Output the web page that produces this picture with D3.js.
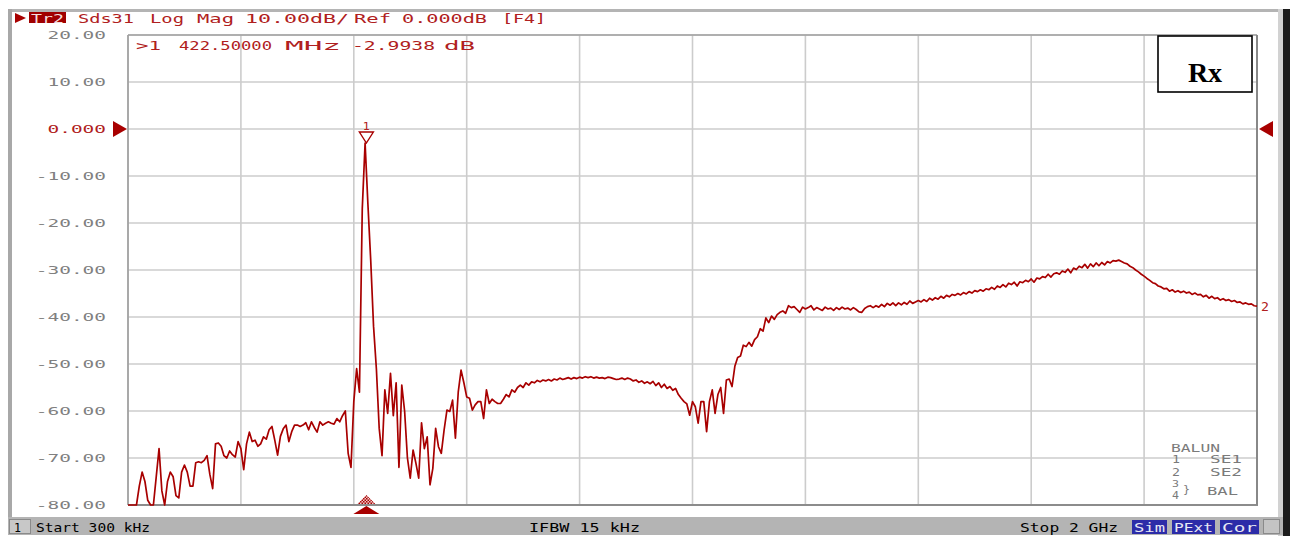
<!DOCTYPE html>
<html>
<head>
<meta charset="utf-8">
<script src="https://cdn.jsdelivr.net/npm/d3@7"></script>
<style>
  html, body { margin: 0; padding: 0; background: #fff; }
  svg { display: block; }
</style>
</head>
<body>
<div id="canvas"></div>
<script>
// sweep: 401 points, 300 kHz .. 2 GHz (MHz)
const startMHz = 0.3;
const stopMHz = 2000;
const sweepPoints = 401;

// Sds31 trace, dB
const traceDb = [
  -81, -82, -81, -80.5, -76, -73, -75, -79, -82, -83,
  -74, -68, -77, -82, -75, -73, -74, -78, -78.5, -73,
  -71.5, -73, -76, -76, -71, -70.8, -71, -70.5, -69.5, -73.5,
  -76.5, -67, -66.8, -67.5, -69.5, -70, -68.5, -69.3, -69.8, -66.5,
  -68, -72.5, -67, -64.5, -66.5, -66.2, -67.5, -67, -65.5, -66,
  -64, -63.3, -66.2, -69.4, -65.4, -63.8, -63, -66.5, -64.4, -63,
  -63, -63.3, -63, -62.5, -64, -62.3, -63.5, -64.5, -62.3, -63,
  -62.6, -62.3, -62.6, -62.8, -61.6, -62.3, -61, -60, -69, -72,
  -58, -51, -56, -17, -3, -16, -28, -42, -51, -63.7,
  -69.5, -55.5, -60.5, -52, -61, -54, -72, -54.5, -60, -70,
  -74.3, -68.3, -71.1, -74.3, -62.5, -68, -65.5, -75.7, -72.2, -63.7,
  -67.6, -69, -64, -59.8, -60.1, -57.7, -65.8, -56, -51.3, -54,
  -57, -57.3, -59.8, -58.7, -58, -58, -61.6, -55.5, -58.4, -57.5,
  -58, -58.4, -58.4, -57.5, -56.5, -57, -55.5, -56, -55, -54.5,
  -55, -54, -54.5, -53.8, -54, -53.5, -53.8, -53.4, -53.6, -53.3,
  -53.6, -53.2, -53.4, -53.0, -53.3, -53.1, -52.9, -53.2, -52.9, -53.1,
  -52.8, -53.0, -52.7, -52.9, -52.7, -53.0, -52.8, -53.0, -52.9, -53.1,
  -52.8, -52.9, -53.1, -53.3, -53.2, -53.0, -53.3, -53.0, -53.2, -53.6,
  -53.4, -53.9, -53.6, -54.1, -53.8, -54.2, -53.7, -54.6, -54.0, -55.0,
  -54.3, -55.2, -54.8, -55.6, -55.2, -56.5, -57.3, -58.0, -58.5, -60.9,
  -58.0, -59.1, -62.6, -58.0, -58.0, -64.4, -58.0, -55.5, -60.5, -56.5,
  -55.0, -60.5, -53.4, -53.2, -54.8, -50.5, -48.6, -48.3, -46.0, -46.3,
  -45.4, -46.2, -44.8, -44.2, -42.5, -43.0, -40.2, -41.2, -39.8, -40.5,
  -39.5, -39.0, -38.7, -39.2, -37.6, -38.0, -37.8, -38.4, -39.0, -37.9,
  -38.3, -38.0, -37.6, -38.5, -38.0, -38.3, -38.6, -37.9, -38.3, -38.1,
  -38.6, -38.0, -38.4, -37.9, -38.3, -38.1, -38.5, -38.0, -38.4, -38.9,
  -39.0, -38.2, -37.8, -37.6, -38.0, -37.6, -37.9, -37.3, -37.8, -37.1,
  -37.5, -37.0, -37.6, -37.0, -37.4, -36.9, -37.3, -36.6, -37.1, -36.8,
  -36.5, -36.8, -36.3, -36.7, -36.0, -36.4, -35.9, -36.2, -35.6, -36.0,
  -35.4, -35.7, -35.2, -35.4, -35.0, -35.3, -34.8, -35.1, -34.6, -34.9,
  -34.4, -34.6, -34.2, -34.5, -34.0, -34.2, -33.7, -34.1, -33.4, -33.7,
  -33.1, -33.6, -32.8, -33.1, -32.6, -33.4, -32.5, -32.7, -32.2, -32.5,
  -31.9, -32.6, -31.7, -31.9, -31.4, -31.6, -30.9, -31.5, -30.8, -30.6,
  -30.9, -30.2, -30.5, -29.8, -30.6, -29.6, -29.9, -29.2, -29.5, -28.8,
  -29.6, -28.7, -29.3, -28.5, -29.1, -28.4, -28.9, -28.2, -28.5, -28.0,
  -28.1, -27.9, -28.2, -28.5, -28.7, -29.2, -29.5, -30.0, -30.4, -30.9,
  -31.3, -31.8, -32.2, -32.7, -32.9, -33.4, -33.6, -34.0, -33.9, -34.5,
  -34.2, -34.7, -34.4, -34.8, -34.5, -34.9, -34.7, -35.2, -34.9, -35.3,
  -35.2, -35.7, -35.4, -36.0, -35.6, -36.1, -35.9, -36.4, -36.1, -36.5,
  -36.3, -36.7, -36.5, -36.9, -36.8, -37.2, -37.0, -37.3, -37.2, -37.6,
  -37.7
];

const yTicks = [20, 10, 0, -10, -20, -30, -40, -50, -60, -70, -80];
const yTickLabels = ['20.00', '10.00', '0.000', '-10.00', '-20.00', '-30.00', '-40.00', '-50.00', '-60.00', '-70.00', '-80.00'];
const refDb = 0;

const markerFreq = 422.5;
const markerDb = -2.9938;
const markerReadout = ['>1', '422.50000', 'MHz', '-2.9938', 'dB'];

const titleWords = ['Sds31', 'Log', 'Mag', '10.00dB/', 'Ref', '0.000dB', '[F4]'];
const statusTexts = ['Start 300 kHz', 'IFBW 15 kHz', 'Stop 2 GHz'];
const statusFlags = ['Sim', 'PExt', 'Cor'];

const red = '#a80000';
const textRed = '#b02020';
const mono = 'DejaVu Sans Mono';

const svg = d3
  .select('#canvas')
  .append('svg')
  .attr('width', 1296)
  .attr('height', 539)
  .style('background-color', '#ffffff');

// stretched pixel-font look: every word gets its own width
function word(g, str, x, y, w, size, color, anchor) {
  return g.append('text')
    .attr('x', x)
    .attr('y', y)
    .attr('font-family', mono)
    .attr('font-size', size)
    .attr('fill', color)
    .attr('text-anchor', anchor || 'start')
    .attr('textLength', w)
    .attr('lengthAdjust', 'spacingAndGlyphs')
    .text(str);
}

// window frame
svg.append('rect').attr('x', 8).attr('y', 9).attr('width', 1276).attr('height', 3).attr('fill', '#b4b4b4');
svg.append('rect').attr('x', 8).attr('y', 9).attr('width', 4).attr('height', 509).attr('fill', '#a8a8a8');
svg.append('rect').attr('x', 1278).attr('y', 9).attr('width', 5).attr('height', 527).attr('fill', '#d2d2d2');
svg.append('rect').attr('x', 1283).attr('y', 9).attr('width', 7).attr('height', 527).attr('fill', '#1c1c1c');

const x = d3.scaleLinear().domain([startMHz, stopMHz]).range([128, 1257]);
const y = d3.scaleLinear().domain([-80, 20]).range([505, 35]).clamp(true);

const plot = svg.append('g');
plot.append('rect')
  .attr('x', x(startMHz)).attr('y', y(20))
  .attr('width', x(stopMHz) - x(startMHz)).attr('height', y(-80) - y(20))
  .attr('fill', '#ffffff');

const xGrid = d3.range(11).map((i) => startMHz + (i * (stopMHz - startMHz)) / 10);

plot.selectAll('line.vgrid')
  .data(xGrid)
  .join('line')
  .attr('class', 'vgrid')
  .attr('x1', (d) => x(d)).attr('x2', (d) => x(d))
  .attr('y1', y(20)).attr('y2', y(-80))
  .attr('stroke', '#cccccc')
  .attr('stroke-width', 1.6);

plot.selectAll('line.hgrid')
  .data(yTicks)
  .join('line')
  .attr('class', 'hgrid')
  .attr('x1', x(startMHz)).attr('x2', x(stopMHz))
  .attr('y1', (d) => y(d)).attr('y2', (d) => y(d))
  .attr('stroke', '#cccccc')
  .attr('stroke-width', 1.4);

plot.append('line')
  .attr('x1', x(startMHz)).attr('x2', x(startMHz)).attr('y1', y(20)).attr('y2', y(-80))
  .attr('stroke', '#9a9a9a').attr('stroke-width', 1.5);
plot.append('line')
  .attr('x1', x(startMHz)).attr('x2', x(stopMHz)).attr('y1', y(20)).attr('y2', y(20))
  .attr('stroke', '#a0a0a0').attr('stroke-width', 1.5);
plot.append('line')
  .attr('x1', x(startMHz)).attr('x2', x(stopMHz) + 1).attr('y1', y(-80)).attr('y2', y(-80))
  .attr('stroke', '#8c8c8c').attr('stroke-width', 2);
plot.append('line')
  .attr('x1', x(stopMHz)).attr('x2', x(stopMHz)).attr('y1', y(20)).attr('y2', y(-80))
  .attr('stroke', '#888888').attr('stroke-width', 2);

// y tick labels
svg.selectAll('text.ytick')
  .data(yTicks)
  .join('text')
  .attr('class', 'ytick')
  .attr('x', 106)
  .attr('y', (d) => y(d) + 4)
  .attr('text-anchor', 'end')
  .attr('font-family', mono)
  .attr('font-size', 11)
  .attr('fill', (d) => (d === refDb ? textRed : '#808080'))
  .attr('textLength', (d, i) => yTickLabels[i].length * 11.7)
  .attr('lengthAdjust', 'spacingAndGlyphs')
  .text((d, i) => yTickLabels[i]);

// reference position arrows
svg.append('path')
  .attr('d', `M113,${y(refDb) - 8}L127,${y(refDb)}L113,${y(refDb) + 8}Z`)
  .attr('fill', red);
svg.append('path')
  .attr('d', `M1273,${y(refDb) - 8}L1259,${y(refDb)}L1273,${y(refDb) + 8}Z`)
  .attr('fill', red);

// trace
const freqs = traceDb.map((d, i) => startMHz + (i * (stopMHz - startMHz)) / (sweepPoints - 1));
const line = d3.line()
  .x((d, i) => x(freqs[i]))
  .y((d) => y(d));

plot.append('path')
  .datum(traceDb)
  .attr('d', line)
  .attr('fill', 'none')
  .attr('stroke', red)
  .attr('stroke-width', 1.7)
  .attr('stroke-linejoin', 'round');

word(svg, '2', x(stopMHz) + 4, y(traceDb[traceDb.length - 1]) + 5, 8, 12, textRed);

// marker 1
const mx = x(markerFreq);
const my = y(markerDb);
svg.append('path')
  .attr('d', `M${mx - 7},${my - 11}L${mx + 7},${my - 11}L${mx},${my}Z`)
  .attr('fill', '#ffffff')
  .attr('stroke', red)
  .attr('stroke-width', 1.4);
word(svg, '1', mx, my - 13, 7, 11, textRed, 'middle');

const defs = svg.append('defs');
const pat = defs.append('pattern')
  .attr('id', 'checker')
  .attr('width', 3).attr('height', 3)
  .attr('patternUnits', 'userSpaceOnUse');
pat.append('rect').attr('width', 3).attr('height', 3).attr('fill', '#f0c8c8');
pat.append('rect').attr('width', 1.5).attr('height', 1.5).attr('fill', red);
pat.append('rect').attr('x', 1.5).attr('y', 1.5).attr('width', 1.5).attr('height', 1.5).attr('fill', red);

svg.append('path')
  .attr('d', `M${mx},${y(-80) - 10}L${mx + 9},${y(-80) - 1}L${mx - 9},${y(-80) - 1}Z`)
  .attr('fill', 'url(#checker)');
svg.append('path')
  .attr('d', `M${mx},${y(-80) + 1}L${mx + 13},${y(-80) + 9}L${mx - 13},${y(-80) + 9}Z`)
  .attr('fill', red);

// marker readout
const readoutX = [136, 179, 285, 352, 444];
const readoutW = [25, 93, 56, 83, 31];
markerReadout.forEach((s, i) => word(svg, s, readoutX[i], 50, readoutW[i], 13, textRed));

// title line
svg.append('path').attr('d', 'M15,13L26,18L15,23Z').attr('fill', red);
svg.append('rect').attr('x', 29).attr('y', 12).attr('width', 37).attr('height', 11).attr('fill', '#a00000');
word(svg, 'Tr2', 31, 22.5, 33, 13, '#f4dede');
const titleX = [78, 150, 197, 245, 354, 402, 502];
const titleW = [56, 34, 37, 104, 37, 85, 44];
titleWords.forEach((s, i) => word(svg, s, titleX[i], 22.5, titleW[i], 13, textRed));

// Rx box
svg.append('rect')
  .attr('x', 1158).attr('y', 36).attr('width', 94).attr('height', 56)
  .attr('fill', '#ffffff').attr('stroke', '#000000').attr('stroke-width', 1.6);
svg.append('text')
  .attr('x', 1205).attr('y', 82)
  .attr('text-anchor', 'middle')
  .attr('font-family', 'Liberation Serif')
  .attr('font-weight', 'bold')
  .attr('font-size', 28)
  .attr('fill', '#000000')
  .text('Rx');

// balun port legend
const legendGray = '#7a7a7a';
word(svg, 'BALUN', 1171, 452, 49, 11, legendGray);
word(svg, '1', 1172, 463, 8, 11, legendGray);
word(svg, 'SE1', 1210, 463, 32, 11, legendGray);
word(svg, '2', 1172, 476, 8, 11, legendGray);
word(svg, 'SE2', 1210, 476, 32, 11, legendGray);
word(svg, '3', 1172, 487, 7, 9, legendGray);
word(svg, '}', 1183, 493, 7, 11, legendGray);
word(svg, 'BAL', 1207, 495, 31, 11, legendGray);
word(svg, '4', 1172, 499, 7, 10, legendGray);

// status bar
svg.append('rect').attr('x', 8).attr('y', 517).attr('width', 1275).attr('height', 18).attr('fill', '#b4b4b4');
svg.append('rect').attr('x', 9.5).attr('y', 519.5).attr('width', 21).attr('height', 14)
  .attr('fill', '#c8c8c8').attr('stroke', '#8a8a8a').attr('stroke-width', 1);
word(svg, '1', 14, 532, 7, 13, '#000000');
const statusX = [36, 529, 1020];
const statusW = [114, 111, 98];
statusTexts.forEach((s, i) => word(svg, s, statusX[i], 532, statusW[i], 13, '#000000'));

const flagX = [1132, 1172, 1220];
const flagW = [35, 43, 39];
statusFlags.forEach((s, i) => {
  svg.append('rect')
    .attr('x', flagX[i]).attr('y', 520).attr('width', flagW[i]).attr('height', 14)
    .attr('fill', '#2c2ca8');
  word(svg, s, flagX[i] + 2, 532, flagW[i] - 4, 13, '#e8e8f4');
});
svg.append('rect').attr('x', 1263.5).attr('y', 519.5).attr('width', 16).attr('height', 14)
  .attr('fill', '#c4c4c4').attr('stroke', '#8a8a8a').attr('stroke-width', 1);
</script>
</body>
</html>
